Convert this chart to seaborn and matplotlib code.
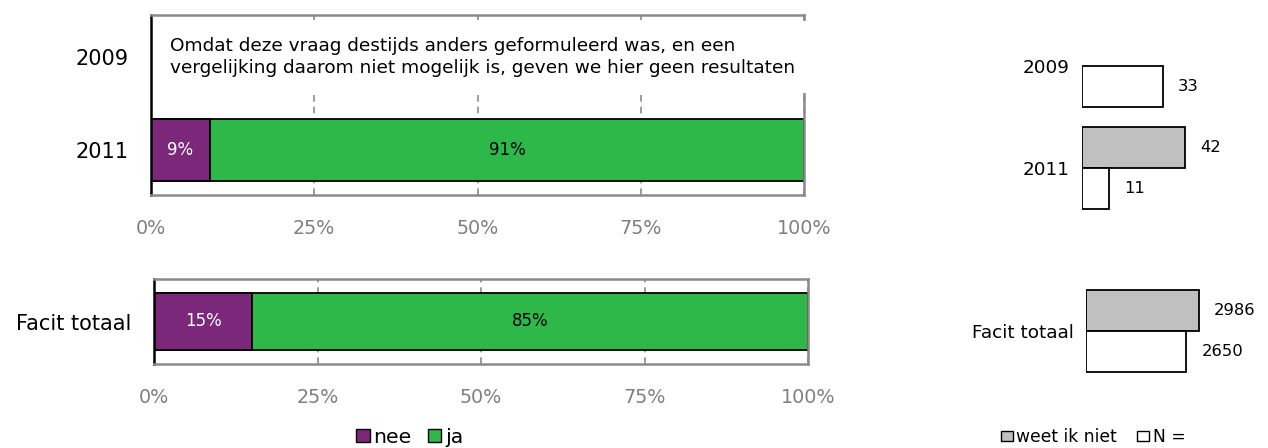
import numpy as np
import pandas as pd
import matplotlib.pyplot as plt
from matplotlib.patches import Patch, Rectangle
import seaborn as sns

# data
jaren = ['2009', '2011']
nee = [np.nan, 9]
ja = [np.nan, 91]

totaal_cat = ['Facit totaal']
totaal_nee = [15]
totaal_ja = [85]

n_groepen = ['weet ik niet', 'N =']
jaren_weet = [np.nan, 42]
jaren_n = [33, 11]
totaal_weet = [2986]
totaal_n = [2650]

x_ticks = [0, 25, 50, 75, 100]
x_ticklabels = ['0%', '25%', '50%', '75%', '100%']

opmerking = ("Omdat deze vraag destijds anders geformuleerd was, en een\n"
             "vergelijking daarom niet mogelijk is, geven we hier geen resultaten")

# colours
paars = '#7b287b'
groen = '#2eb84a'
grijs = '#c0c0c0'
lijn = '#8a8a8a'

sns.set_style('white')
plt.rcParams['font.family'] = ['DejaVu Sans']
plt.rcParams['text.color'] = 'black'
plt.rcParams['xtick.color'] = 'black'
plt.rcParams['ytick.color'] = 'black'
plt.rcParams['axes.labelcolor'] = 'black'

W, H = 1268, 448
fig = plt.figure(figsize=(W / 100, H / 100), dpi=100)


def add_ax(l, t, r, b):
    return fig.add_axes([l / W, 1 - b / H, (r - l) / W, (b - t) / H])


def pct_panel(ax, cats, nee_vals, ja_vals):
    df = pd.DataFrame({'cat': cats, 'nee': nee_vals, 'ja': ja_vals})
    df['tot'] = df['nee'] + df['ja']
    d = df.dropna()
    sns.barplot(data=d, x='tot', y='cat', order=cats, color=groen, saturation=1,
                edgecolor='black', linewidth=1.3, width=0.66, orient='h', ax=ax, zorder=2)
    sns.barplot(data=d, x='nee', y='cat', order=cats, color=paars, saturation=1,
                edgecolor='black', linewidth=1.3, width=0.66, orient='h', ax=ax, zorder=2)
    for _, r in d.iterrows():
        i = cats.index(r['cat'])
        ax.text(r['nee'] / 2, i, f"{r['nee']:.0f}%", ha='center', va='center',
                color='white', fontsize=12, zorder=4)
        ax.text(r['nee'] + r['ja'] / 2, i, f"{r['ja']:.0f}%", ha='center', va='center',
                color='black', fontsize=12, zorder=4)
    ax.set_xlim(0, 100)
    ax.set_xticks(x_ticks)
    ax.set_xticklabels(x_ticklabels)
    ax.set_xlabel('')
    ax.set_ylabel('')
    ax.set_axisbelow(True)
    ax.xaxis.grid(True, linestyle=(0, (4, 3)), color=lijn, linewidth=1.2)
    ax.yaxis.grid(False)
    ax.tick_params(axis='x', length=0, labelsize=13.8, labelcolor='#808080', pad=17)
    ax.tick_params(axis='y', length=0, labelsize=15, labelcolor='black', pad=16)
    for s in ['top', 'right', 'bottom']:
        ax.spines[s].set_color(lijn)
        ax.spines[s].set_linewidth(1.8)
    ax.spines['left'].set_color('black')
    ax.spines['left'].set_linewidth(1.8)


def n_panel(ax, cats, weet_vals, n_vals, xmax):
    df = pd.DataFrame({'cat': cats * 2,
                       'groep': [n_groepen[0]] * len(cats) + [n_groepen[1]] * len(cats),
                       'waarde': list(weet_vals) + list(n_vals)}).dropna()
    sns.barplot(data=df, x='waarde', y='cat', hue='groep', order=cats, hue_order=n_groepen,
                palette=[grijs, 'white'], saturation=1, edgecolor='black', linewidth=1.3,
                width=0.8, orient='h', legend=False, ax=ax)
    for c in ax.containers:
        ax.bar_label(c, padding=11, fontsize=11.8, color='black')
    ax.set_xlim(0, xmax)
    ax.set_xticks([])
    ax.set_xlabel('')
    ax.set_ylabel('')
    ax.tick_params(axis='y', length=0, labelsize=13.2, labelcolor='black', pad=9)
    for s in ax.spines.values():
        s.set_visible(False)


# left: percentages per jaar
ax1 = add_ax(151, 15, 804, 195)
pct_panel(ax1, jaren, nee, ja)
ax1.set_ylim(1.48, -0.45)
ax1.add_patch(Rectangle((0.004, 0.567), 1.01, 0.40, transform=ax1.transAxes,
                        facecolor='white', edgecolor='none', zorder=3, clip_on=False))
ax1.text((170 - 151) / 653, 0, opmerking, transform=ax1.get_yaxis_transform(),
         ha='left', va='center', fontsize=13.3, linespacing=1.3, zorder=4)

# left: facit totaal
ax2 = add_ax(154, 279, 808, 364)
pct_panel(ax2, totaal_cat, totaal_nee, totaal_ja)
ax2.set_ylim(0.5, -0.5)

# right: aantallen per jaar
ax3 = add_ax(1082, 15, 1250, 215)
n_panel(ax3, jaren, jaren_weet, jaren_n, 168 / 2.45)
ax3.set_ylim(1.46, -0.5)

# right: facit totaal
ax4 = add_ax(1086, 279, 1250, 380)
n_panel(ax4, totaal_cat, totaal_weet, totaal_n, 164 / 0.03775)
ax4.set_ylim(0.48, -0.51)

# legends
fig.legend(handles=[Patch(facecolor=paars, edgecolor='black'),
                    Patch(facecolor=groen, edgecolor='black')],
           labels=['nee', 'ja'], loc='center', bbox_to_anchor=(410 / W, 1 - 437 / H),
           ncol=2, frameon=False, fontsize=14.7, handlelength=0.65, handleheight=0.65,
           handletextpad=0.2, columnspacing=0.8, borderaxespad=0, borderpad=0)
fig.legend(handles=[Patch(facecolor=grijs, edgecolor='black'),
                    Patch(facecolor='white', edgecolor='black')],
           labels=n_groepen, loc='center', bbox_to_anchor=(1093 / W, 1 - 437 / H),
           ncol=2, frameon=False, fontsize=12.3, handlelength=0.7, handleheight=0.6,
           handletextpad=0.2, columnspacing=1.2, borderaxespad=0, borderpad=0)

plt.savefig('out.png', dpi=100)
